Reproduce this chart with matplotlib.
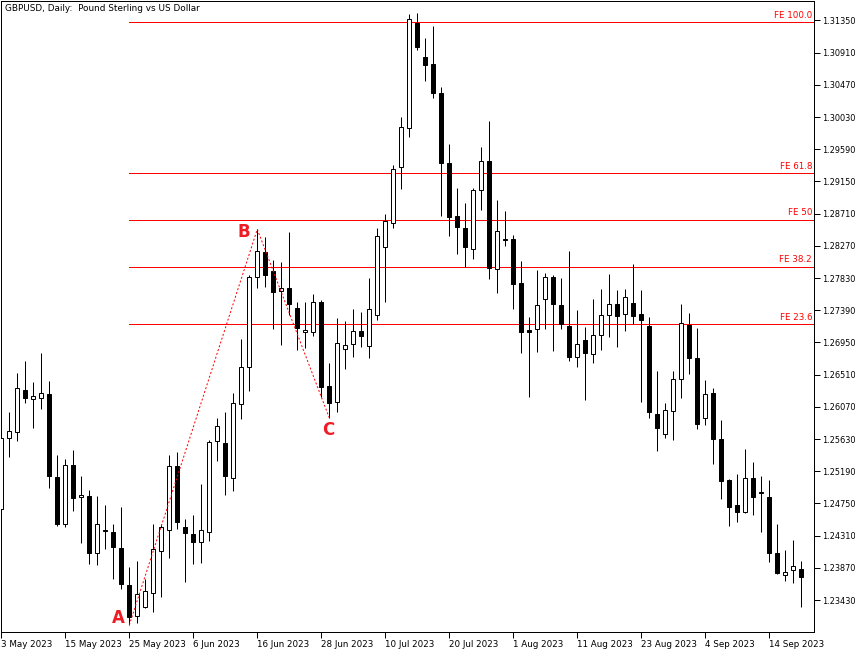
import numpy as np
import matplotlib
matplotlib.use("Agg")
import matplotlib.pyplot as plt

# GBPUSD daily bars, 3 May 2023 .. 20 Sep 2023 (one per weekday)
opens = [1.24674, 1.25645, 1.25727, 1.26300, 1.26173, 1.26191, 1.26245, 1.25112, 1.24465, 1.25272,
         1.24834, 1.24852, 1.24069, 1.24390, 1.24360, 1.24141, 1.23635, 1.23208, 1.23331, 1.23522,
         1.24104, 1.24383, 1.25262, 1.24428, 1.24332, 1.24219, 1.24364, 1.25600, 1.25576, 1.25103,
         1.26105, 1.26610, 1.27841, 1.28182, 1.27927, 1.27649, 1.27690, 1.27417, 1.27089, 1.27089,
         1.27499, 1.26351, 1.26133, 1.26856, 1.26925, 1.27106, 1.26906, 1.27321, 1.28259, 1.28579,
         1.29344, 1.29877, 1.31320, 1.30851, 1.30755, 1.30359, 1.29403, 1.28678, 1.28514, 1.28223,
         1.29030, 1.29426, 1.27950, 1.28360, 1.28364, 1.27759, 1.27120, 1.27130, 1.27540, 1.27841,
         1.27458, 1.27175, 1.26747, 1.26979, 1.26788, 1.27048, 1.27321, 1.27471, 1.27335, 1.27485,
         1.27335, 1.27175, 1.25973, 1.25695, 1.26010, 1.26446, 1.27188, 1.26733, 1.25921, 1.26259,
         1.25631, 1.25071, 1.24729, 1.24629, 1.25094, 1.24907, 1.24839, 1.24077, 1.23768, 1.23840,
         1.23854]
highs = [1.25672, 1.26004, 1.26532, 1.26696, 1.26409, 1.26802, 1.26423, 1.25412, 1.25358, 1.25481,
         1.25123, 1.24934, 1.24852, 1.24729, 1.24469, 1.24701, 1.23881, 1.23968, 1.23717, 1.24469,
         1.24469, 1.25412, 1.25453, 1.24537, 1.24592, 1.25016, 1.25617, 1.25921, 1.26000, 1.26263,
         1.26993, 1.27868, 1.28497, 1.28391, 1.28077, 1.28050, 1.28460, 1.27503, 1.27503, 1.27608,
         1.27530, 1.26673, 1.27288, 1.27243, 1.27403, 1.27366, 1.27827, 1.28514, 1.28702, 1.29376,
         1.30036, 1.31439, 1.31456, 1.31115, 1.31275, 1.30437, 1.29663, 1.29066, 1.28860, 1.29066,
         1.29626, 1.29977, 1.28897, 1.28747, 1.28415, 1.28063, 1.27294, 1.27940, 1.27895, 1.27872,
         1.27827, 1.28196, 1.27393, 1.27161, 1.27540, 1.27677, 1.27886, 1.27667, 1.27681, 1.28022,
         1.27667, 1.27294, 1.26564, 1.26127, 1.26560, 1.27475, 1.27352, 1.27143, 1.26437, 1.26332,
         1.25891, 1.25084, 1.25153, 1.25494, 1.25317, 1.25125, 1.25071, 1.24473, 1.24114, 1.24250,
         1.23968]
lows = [1.24647, 1.25389, 1.25608, 1.26127, 1.25785, 1.26037, 1.24966, 1.24446, 1.24428, 1.24647,
        1.24214, 1.23918, 1.23909, 1.24127, 1.23717, 1.23577, 1.23089, 1.23113, 1.23318, 1.23271,
        1.23476, 1.24009, 1.24401, 1.23680, 1.23918, 1.23940, 1.24241, 1.25335, 1.24870, 1.24921,
        1.25908, 1.26291, 1.27690, 1.27712, 1.27138, 1.26919, 1.27321, 1.26851, 1.26878, 1.27042,
        1.26209, 1.25921, 1.25996, 1.26591, 1.26755, 1.26883, 1.26741, 1.27257, 1.27507, 1.28518,
        1.29048, 1.29764, 1.30947, 1.30527, 1.30295, 1.28678, 1.28409, 1.28163, 1.27986, 1.28087,
        1.28760, 1.27822, 1.27630, 1.28273, 1.27407, 1.26810, 1.26209, 1.26824, 1.27138, 1.26837,
        1.27130, 1.26700, 1.26615, 1.26164, 1.26673, 1.26847, 1.27028, 1.26892, 1.27111, 1.27202,
        1.26141, 1.25918, 1.25471, 1.25649, 1.25622, 1.26195, 1.26523, 1.25774, 1.25829, 1.25285,
        1.24811, 1.24446, 1.24500, 1.24615, 1.24592, 1.24367, 1.23954, 1.23786, 1.23694, 1.23667,
        1.23331]
closes = [1.25645, 1.25740, 1.26327, 1.26191, 1.26218, 1.26259, 1.25130, 1.24473, 1.25272, 1.24829,
          1.24866, 1.24077, 1.24469, 1.24380, 1.24159, 1.23653, 1.23203, 1.23512, 1.23553, 1.24127,
          1.24428, 1.25262, 1.24500, 1.24342, 1.24219, 1.24383, 1.25586, 1.25805, 1.25130, 1.26123,
          1.26610, 1.27841, 1.28204, 1.27876, 1.27644, 1.27690, 1.27471, 1.27151, 1.27116, 1.27499,
          1.26345, 1.26127, 1.26938, 1.26911, 1.27102, 1.27042, 1.27403, 1.28401, 1.28614, 1.29317,
          1.29891, 1.31366, 1.30992, 1.30746, 1.30363, 1.29407, 1.28669, 1.28532, 1.28259, 1.29030,
          1.29426, 1.27964, 1.28473, 1.28346, 1.27753, 1.27097, 1.27089, 1.27458, 1.27841, 1.27479,
          1.27202, 1.26755, 1.26925, 1.26810, 1.27048, 1.27321, 1.27471, 1.27315, 1.27567, 1.27315,
          1.27261, 1.26004, 1.25775, 1.26023, 1.26450, 1.27212, 1.26742, 1.25840, 1.26241, 1.25635,
          1.25061, 1.24705, 1.24637, 1.25094, 1.24843, 1.24887, 1.24077, 1.23804, 1.23809, 1.23899,
          1.23741]

date_labels = ["3 May 2023", "15 May 2023", "25 May 2023", "6 Jun 2023", "16 Jun 2023",
               "28 Jun 2023", "10 Jul 2023", "20 Jul 2023", "1 Aug 2023", "11 Aug 2023",
               "23 Aug 2023", "4 Sep 2023", "14 Sep 2023"]
label_step = 8  # one date label every 8 bars

price_ticks = [1.31350, 1.30910, 1.30470, 1.30030, 1.29590, 1.29150, 1.28710, 1.28270,
               1.27830, 1.27390, 1.26950, 1.26510, 1.26070, 1.25630, 1.25190, 1.24750,
               1.24310, 1.23870, 1.23430]

# Fibonacci expansion points (bar index)
idx_a, idx_b, idx_c = 16, 32, 41
fe_ratios = [1.0, 0.618, 0.5, 0.382, 0.236]
fe_names = ["FE 100.0", "FE 61.8", "FE 50", "FE 38.2", "FE 23.6"]

RED = "#ff0000"
PX = 0.72  # one pixel in points at dpi 100

o = np.array(opens)
h = np.array(highs)
l = np.array(lows)
c = np.array(closes)
x = np.arange(len(o))

fig = plt.figure(figsize=(8.55, 6.5), dpi=100)
ax = fig.add_axes([1 / 855, 18 / 650, 813 / 855, 631 / 650])

# wicks then bodies
ax.vlines(x, l, h, color="black", linewidth=PX, zorder=2)
up = c >= o
bottoms = np.minimum(o, c)
heights = np.maximum(np.abs(c - o), 0.00002)
ax.bar(x, heights, bottom=bottoms, width=0.5,
       color=np.where(up, "white", "black"), edgecolor="black",
       linewidth=PX, zorder=3)

# A-B-C dotted path
pa, pb, pc = l[idx_a], h[idx_b], l[idx_c]
ax.plot([idx_a, idx_b, idx_c], [pa, pb, pc], color=RED, linestyle=(0, (2, 2)),
        linewidth=PX, zorder=4)

xmax = 101.6
for r, name in zip(fe_ratios, fe_names):
    lvl = pc + (pb - pa) * r
    ax.plot([idx_a, xmax], [lvl, lvl], color=RED, linewidth=PX, zorder=1)
    ax.annotate(name, xy=(1.0, lvl), xycoords=("axes fraction", "data"),
                xytext=(-2, 2.5), textcoords="offset pixels",
                ha="right", va="bottom", fontsize=6.3, color=RED)

lab_color = "#ee1c24"
ax.annotate("A", xy=(idx_a, pa), xytext=(-11, 7), textcoords="offset pixels",
            ha="center", va="center", fontsize=12, fontweight="bold", color=lab_color)
ax.annotate("B", xy=(idx_b, pb), xytext=(-13, -3), textcoords="offset pixels",
            ha="center", va="center", fontsize=12, fontweight="bold", color=lab_color)
ax.annotate("C", xy=(idx_c, pc), xytext=(-1, -12), textcoords="offset pixels",
            ha="center", va="center", fontsize=12, fontweight="bold", color=lab_color)

ax.set_xlim(-0.04, xmax)
ax.set_ylim(1.22994, 1.31616)

ax.yaxis.tick_right()
ax.set_yticks(price_ticks)
ax.set_yticklabels([f"{p:.5f}" for p in price_ticks], fontsize=5.9)
ax.set_xticks(np.arange(len(date_labels)) * label_step)
ax.set_xticklabels(date_labels, fontsize=6.3, ha="left")
ax.tick_params(axis="both", direction="out", length=4, width=PX, pad=1.5, colors="black")

for s in ax.spines.values():
    s.set_linewidth(PX)
    s.set_color("black")

fig.text(5 / 855, 1 - 4 / 650, "GBPUSD, Daily:  Pound Sterling vs US Dollar",
         ha="left", va="top", fontsize=6.4)

fig.savefig("out.png", dpi=100)
plt.close(fig)
